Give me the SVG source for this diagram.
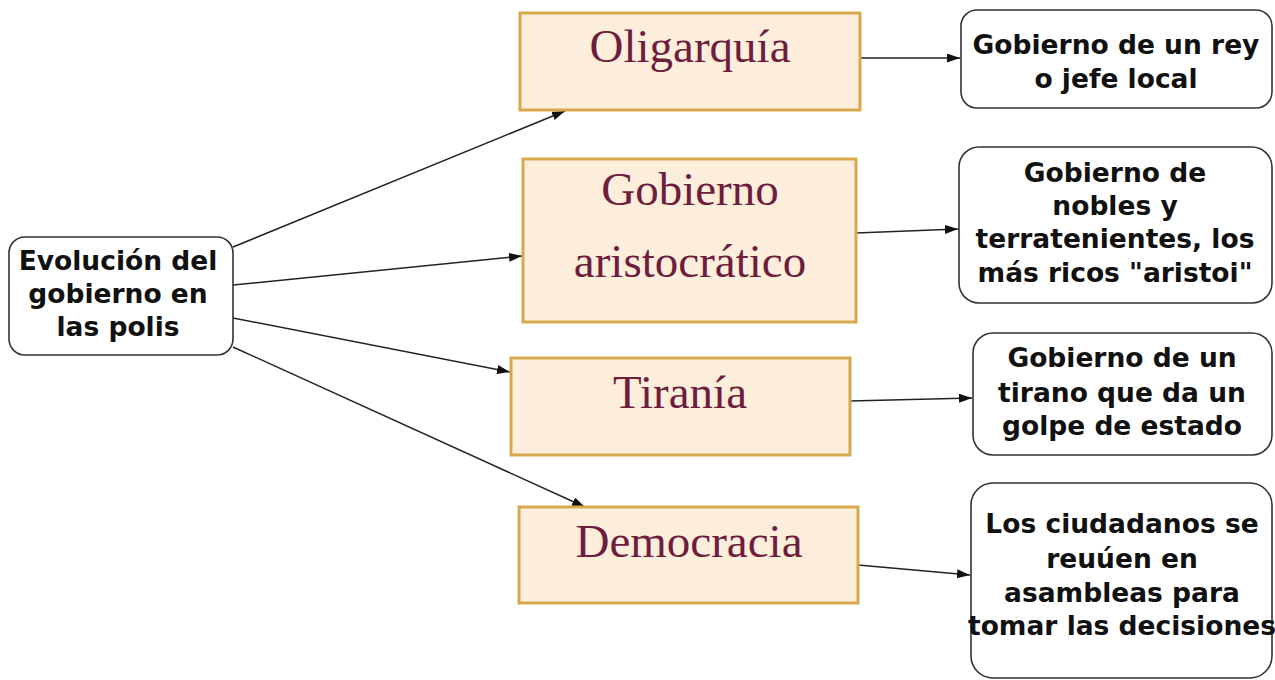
<svg xmlns="http://www.w3.org/2000/svg" width="1275" height="680" viewBox="0 0 1275 680">
<defs>
<marker id="arr" markerUnits="userSpaceOnUse" markerWidth="14" markerHeight="10" refX="13" refY="4.5" orient="auto">
<path d="M0,0 L13,4.5 L0,9 Z" fill="#111"/>
</marker>
<style>
.rbox{fill:#fff;stroke:#333;stroke-width:1.6}
.gbox{fill:#fdeedc;stroke:#d8a94c;stroke-width:3}
.bt{font-family:"DejaVu Sans",sans-serif;font-weight:bold;font-size:26.5px;fill:#111;text-anchor:middle}
.st{font-family:"Liberation Serif",serif;font-size:47px;fill:#6e1d3c;text-anchor:middle}
.cn{stroke:#222;stroke-width:1.5;fill:none;marker-end:url(#arr)}
</style>
</defs>
<rect width="1275" height="680" fill="#fff"/>
<g id="connectors">
<line class="cn" x1="233" y1="247" x2="565" y2="111"/>
<line class="cn" x1="233" y1="285" x2="522" y2="256"/>
<line class="cn" x1="233" y1="318" x2="510" y2="372"/>
<line class="cn" x1="233" y1="347" x2="585" y2="507"/>
<line class="cn" x1="860" y1="58" x2="960" y2="58"/>
<line class="cn" x1="856" y1="233" x2="958" y2="229"/>
<line class="cn" x1="850" y1="401" x2="972" y2="398"/>
<line class="cn" x1="858" y1="565" x2="970" y2="575"/>
</g>
<g id="evolucion">
<rect class="rbox" x="9" y="237" width="224" height="118" rx="16"/>
<text class="bt" x="118" y="270">Evolución del</text>
<text class="bt" x="118" y="303">gobierno en</text>
<text class="bt" x="118" y="336">las polis</text>
</g>
<g id="oligarquia">
<rect class="gbox" x="520" y="13" width="340" height="97"/>
<text class="st" x="690" y="62">Oligarquía</text>
</g>
<g id="aristocratico">
<rect class="gbox" x="523" y="159" width="333" height="163"/>
<text class="st" x="690" y="205">Gobierno</text>
<text class="st" x="690" y="277">aristocrático</text>
</g>
<g id="tirania">
<rect class="gbox" x="511" y="358" width="339" height="97"/>
<text class="st" x="680" y="408">Tiranía</text>
</g>
<g id="democracia">
<rect class="gbox" x="519" y="507" width="339" height="96"/>
<text class="st" x="689" y="557">Democracia</text>
</g>
<g id="rey">
<rect class="rbox" x="961" y="10" width="311" height="98" rx="16"/>
<text class="bt" x="1116" y="54">Gobierno de un rey</text>
<text class="bt" x="1116" y="88">o jefe local</text>
</g>
<g id="nobles">
<rect class="rbox" x="959" y="147" width="313" height="156" rx="20"/>
<text class="bt" x="1115" y="182">Gobierno de</text>
<text class="bt" x="1115" y="215">nobles y</text>
<text class="bt" x="1115" y="248">terratenientes, los</text>
<text class="bt" x="1115" y="282">más ricos "aristoi"</text>
</g>
<g id="tirano">
<rect class="rbox" x="973" y="333" width="299" height="122" rx="20"/>
<text class="bt" x="1122" y="367">Gobierno de un</text>
<text class="bt" x="1122" y="402">tirano que da un</text>
<text class="bt" x="1122" y="435">golpe de estado</text>
</g>
<g id="ciudadanos">
<rect class="rbox" x="971" y="483" width="301" height="195" rx="22"/>
<text class="bt" x="1122" y="533">Los ciudadanos se</text>
<text class="bt" x="1122" y="568">reuúen en</text>
<text class="bt" x="1122" y="602">asambleas para</text>
<text class="bt" x="1122" y="635">tomar las decisiones</text>
</g>
</svg>
